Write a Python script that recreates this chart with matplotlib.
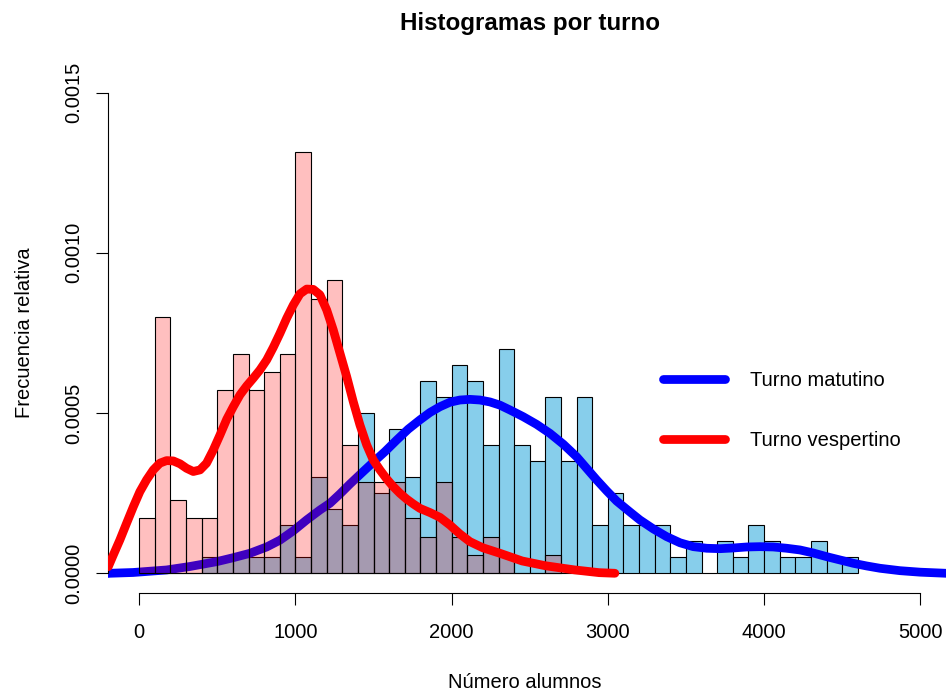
import numpy as np
import matplotlib
matplotlib.use("Agg")
import matplotlib.pyplot as plt

plt.rcParams['font.family'] = ['Liberation Sans', 'DejaVu Sans']

# histogram bins (width 100) and counts
bin_width = 100
matutino_counts = [0, 0, 0, 0, 1, 1, 1, 1, 1, 3, 1, 6, 4, 3, 10, 5, 9, 6, 12, 11,
                   13, 12, 8, 14, 8, 7, 11, 7, 11, 3, 5, 3, 3, 3, 1, 2, 0, 2, 1, 3,
                   2, 1, 1, 2, 1, 1]
vespertino_counts = [3, 14, 4, 3, 3, 10, 12, 10, 11, 12, 23, 15, 16, 7, 5, 5, 5, 3, 2, 5,
                     2, 1, 2, 1, 0, 0, 1]

# density curves (x, density)
matutino_kde_x = [-200, -188, -40, 175, 325, 496, 600, 709, 816, 901, 986, 1072, 1157,
                  1221, 1285, 1349, 1434, 1498, 1573, 1648, 1722, 1797, 1861, 1925,
                  1989, 2053, 2117, 2181, 2245, 2309, 2373, 2458, 2544, 2629, 2715,
                  2800, 2864, 2928, 2992, 3056, 3141, 3205, 3291, 3376, 3462, 3547,
                  3633, 3718, 3803, 3889, 3974, 4059, 4145, 4230, 4315, 4401, 4486,
                  4571, 4657, 4742, 4870, 5000, 5169, 5300]
matutino_kde_y = [0.0, 0.0000006, 0.000003, 0.0000109, 0.0000218, 0.0000368, 0.000049,
                  0.000063, 0.0000827, 0.000104, 0.000133, 0.000167, 0.000198,
                  0.000219, 0.000248, 0.000279, 0.000318, 0.000347, 0.00038, 0.000416,
                  0.00045, 0.000479, 0.000502, 0.00052, 0.000534, 0.000541, 0.000543,
                  0.000541, 0.000535, 0.000525, 0.00051, 0.000489, 0.000465, 0.000437,
                  0.000403, 0.000364, 0.000328, 0.000292, 0.000258, 0.000226, 0.000192,
                  0.000167, 0.000139, 0.000115, 0.0000957, 0.0000836, 0.0000786,
                  0.0000773, 0.0000795, 0.0000826, 0.0000836, 0.0000826, 0.0000786,
                  0.0000733, 0.0000639, 0.0000524, 0.0000421, 0.0000318, 0.0000234,
                  0.0000162, 0.0000087, 0.000004, 0.0000005, 0.0]
vespertino_kde_x = [-198, -166, -124, -81, -38, 4, 47, 90, 132, 175, 218, 261, 303, 346,
                    389, 431, 474, 517, 560, 602, 645, 688, 730, 773, 816, 858, 901,
                    944, 986, 1029, 1072, 1114, 1157, 1200, 1242, 1285, 1328, 1370,
                    1413, 1456, 1498, 1541, 1584, 1626, 1669, 1712, 1754, 1797, 1861,
                    1925, 1989, 2053, 2117, 2200, 2309, 2451, 2601, 2788, 2945, 3045]
vespertino_kde_y = [0.0000212, 0.0000577, 0.0001045, 0.0001566, 0.000208, 0.000255,
                    0.000292, 0.000323, 0.000344, 0.000352, 0.000351, 0.000342,
                    0.000328, 0.000318, 0.000323, 0.000344, 0.000385, 0.000432,
                    0.000481, 0.00052, 0.000557, 0.000585, 0.000609, 0.000635,
                    0.000666, 0.000705, 0.000749, 0.000796, 0.000837, 0.000872,
                    0.000887, 0.000886, 0.000869, 0.000822, 0.00076, 0.000687,
                    0.000614, 0.000536, 0.000463, 0.000401, 0.000354, 0.000323,
                    0.000295, 0.000271, 0.00025, 0.000232, 0.000217, 0.000203,
                    0.00019, 0.000175, 0.000151, 0.000123, 0.0000992, 0.000080,
                    0.000063, 0.000039, 0.000024, 0.000011, 0.0000025, 0.0000006]

x_ticks = [0, 1000, 2000, 3000, 4000, 5000]
y_ticks = [0.0, 0.0005, 0.0010, 0.0015]
y_tick_labels = ["0.0000", "0.0005", "0.0010", "0.0015"]

mat_edges = np.arange(len(matutino_counts) + 1) * bin_width
ves_edges = np.arange(len(vespertino_counts) + 1) * bin_width

fig = plt.figure(figsize=(9.46, 6.92), dpi=100)
ax = fig.add_axes([0.11416, 0.14350, 0.89165, 0.75058])

# histogramas (densidad) + curvas
ax.hist(mat_edges[:-1] + bin_width / 2, bins=mat_edges, weights=matutino_counts,
        density=True, color='#87CEEB', edgecolor='black', linewidth=0.8, zorder=1)
ax.plot(matutino_kde_x, matutino_kde_y, color='#0000FF', lw=6.3,
        solid_capstyle='round', solid_joinstyle='round', zorder=2,
        label='Turno matutino')
ax.hist(ves_edges[:-1] + bin_width / 2, bins=ves_edges, weights=vespertino_counts,
        density=True, color=(1, 0, 0, 0.25), edgecolor='black', linewidth=0.8, zorder=3)
ax.plot(vespertino_kde_x, vespertino_kde_y, color='#FF0000', lw=6.3,
        solid_capstyle='round', solid_joinstyle='round', zorder=4,
        label='Turno vespertino')

ax.set_xlim(-200, 5200)
ax.set_ylim(-0.00006, 0.00156)

for s in ['top', 'right']:
    ax.spines[s].set_visible(False)
ax.spines['left'].set_bounds(0, 0.0015)
ax.spines['bottom'].set_bounds(0, 5000)
ax.spines['left'].set_linewidth(0.8)
ax.spines['bottom'].set_linewidth(0.8)

ax.set_xticks(x_ticks)
ax.set_xticklabels([str(t) for t in x_ticks])
ax.set_yticks(y_ticks)
ax.set_yticklabels(y_tick_labels, rotation=90, va='center')
ax.tick_params(axis='both', length=8.6, width=0.8, labelsize=14.5)
ax.tick_params(axis='x', pad=13.5)
ax.tick_params(axis='y', pad=9)

ax.set_xlabel('Número alumnos', fontsize=14.5)
ax.xaxis.set_label_coords(0.4944, -0.1546)
ax.set_ylabel('Frecuencia relativa', fontsize=14.5)
ax.yaxis.set_label_coords(-0.0873, 0.5)
ax.set_title('Histogramas por turno', fontsize=17.4, fontweight='bold', pad=31)

ax.legend(loc='center left', bbox_to_anchor=(663 / 946, 1 - 410.5 / 692),
          bbox_transform=fig.transFigure, frameon=False, fontsize=14.5,
          handlelength=3.1, handletextpad=1.2, labelspacing=2.05,
          borderpad=0, borderaxespad=0)

fig.savefig('out.png', dpi=100)
